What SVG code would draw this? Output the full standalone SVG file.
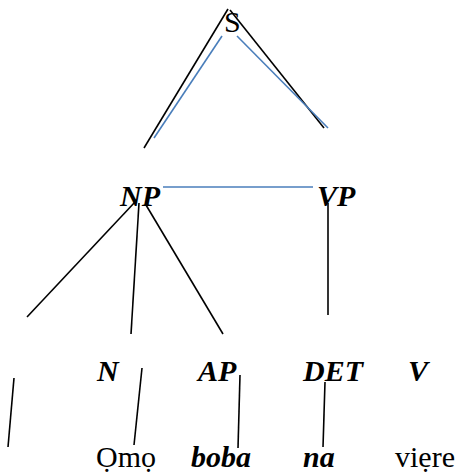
<svg xmlns="http://www.w3.org/2000/svg" width="458" height="475" viewBox="0 0 458 475">
<defs>
<style>
.k{stroke:#000;stroke-width:1.6;fill:none}
.b{stroke:#4a7ebb;stroke-width:1.6;fill:none}
</style>
</defs>
<rect width="458" height="475" fill="#fff"/>
<g id="connectors">
<line class="k" x1="228" y1="9" x2="144" y2="148"/>
<line class="b" x1="222" y1="36" x2="154" y2="138"/>
<line class="k" x1="230" y1="10" x2="324" y2="128"/>
<line class="b" x1="237" y1="36" x2="328" y2="128"/>
<line class="b" x1="163" y1="187" x2="313" y2="187"/>
<line class="k" x1="135" y1="202" x2="27" y2="317"/>
<line class="k" x1="139" y1="203" x2="131" y2="334"/>
<line class="k" x1="146" y1="205" x2="223" y2="334"/>
<line class="k" x1="328" y1="203" x2="328" y2="315"/>
<line class="k" x1="14" y1="378" x2="8" y2="447"/>
<line class="k" x1="142" y1="368" x2="134" y2="445"/>
<line class="k" x1="240" y1="375" x2="238" y2="448"/>
<line class="k" x1="325" y1="382" x2="323" y2="447"/>
</g>
<g font-family="Liberation Serif, serif" font-size="30" fill="#000">
<g id="S"><text x="224" y="32">S</text></g>
<g id="NP" font-weight="bold" font-style="italic"><text x="120" y="206">NP</text></g>
<g id="VP" font-weight="bold" font-style="italic"><text x="317" y="206">VP</text></g>
<g id="N" font-weight="bold" font-style="italic"><text x="97" y="381">N</text></g>
<g id="AP" font-weight="bold" font-style="italic"><text x="198" y="381">AP</text></g>
<g id="DET" font-weight="bold" font-style="italic"><text x="303" y="381">DET</text></g>
<g id="V" font-weight="bold" font-style="italic"><text x="408" y="381">V</text></g>
<g id="omo"><text x="96" y="467">Ọmọ</text></g>
<g id="boba" font-weight="bold" font-style="italic"><text x="191" y="467">boba</text></g>
<g id="na" font-weight="bold" font-style="italic"><text x="303" y="467">na</text></g>
<g id="viere"><text x="395" y="467">viẹre</text></g>
</g>
</svg>
